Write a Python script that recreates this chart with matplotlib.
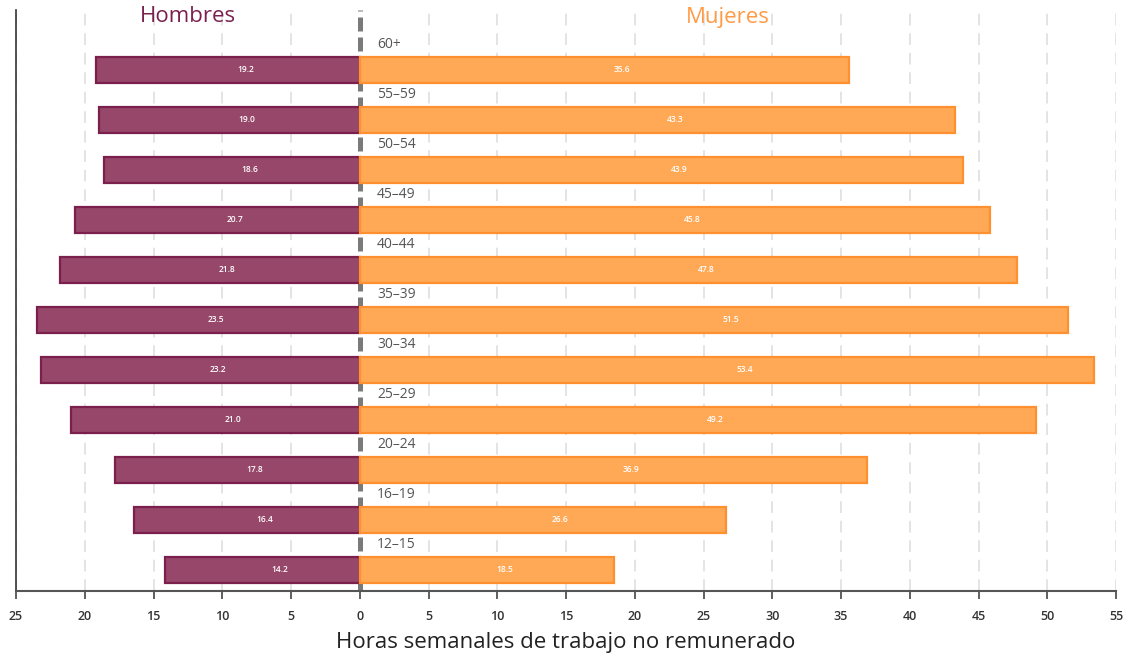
import matplotlib
matplotlib.use("Agg")
import matplotlib.pyplot as plt
import numpy as np

age_groups = ["12–15", "16–19", "20–24", "25–29", "30–34", "35–39",
              "40–44", "45–49", "50–54", "55–59", "60+"]
hombres = [14.2, 16.4, 17.8, 21.0, 23.2, 23.5, 21.8, 20.7, 18.6, 19.0, 19.2]
mujeres = [18.5, 26.6, 36.9, 49.2, 53.4, 51.5, 47.8, 45.8, 43.9, 43.3, 35.6]
xticks = [-25, -20, -15, -10, -5, 0, 5, 10, 15, 20, 25, 30, 35, 40, 45, 50, 55]
xtick_labels = [str(abs(t)) for t in xticks]

plt.rcParams['font.family'] = ['Open Sans', 'DejaVu Sans']

fig = plt.figure(figsize=(11.28, 6.56), dpi=100)
ax = fig.add_axes([16/1128, 1 - 591/656, 1100/1128, 581/656])

y = np.arange(len(age_groups))
h_fill, h_edge = "#96476a", "#7b1f4c"
m_fill, m_edge = "#ffa957", "#ff9030"

# grid
for t in xticks:
    if t == 0:
        continue
    ax.axvline(t, color="#e2e2e2", lw=1.3, dashes=(6.5, 4.3), zorder=0)
ax.axvline(0, color="#7a7a7a", lw=3.6, dashes=(2.8, 1.2), zorder=1)

ax.barh(y, [-v for v in hombres], height=0.52, color=h_fill, edgecolor=h_edge,
        linewidth=1.6, zorder=2)
ax.barh(y, mujeres, height=0.52, color=m_fill, edgecolor=m_edge,
        linewidth=1.6, zorder=2)

for yi, hv, mv, lab in zip(y, hombres, mujeres, age_groups):
    ax.annotate(f"{hv:.1f}", (-hv / 2, yi), xytext=(12.6, 0), textcoords="offset points",
                ha="center", va="center", color="white", fontsize=6, fontweight="semibold", zorder=3)
    ax.annotate(f"{mv:.1f}", (mv / 2, yi), xytext=(12.6, 0), textcoords="offset points",
                ha="center", va="center", color="white", fontsize=6, fontweight="semibold", zorder=3)
    ax.annotate(lab, (0, yi + 0.5), xytext=(12.5, 0), textcoords="offset points",
                ha="left", va="center", color="#555555", fontsize=10, zorder=3)

ax.set_xlim(-25, 55)
ax.set_ylim(-0.42, 11.2)
ax.set_yticks([])
ax.set_xticks(xticks)
ax.set_xticklabels(xtick_labels, fontsize=9, fontweight="semibold", color="#333333")
ax.tick_params(axis="x", length=6, width=1.2, color="#444444", direction="out", pad=8)
for s in ["top", "right"]:
    ax.spines[s].set_visible(False)
ax.spines["left"].set_color("#333333")
ax.spines["left"].set_linewidth(1.2)
ax.spines["bottom"].set_color("#555555")
ax.spines["bottom"].set_linewidth(1.5)

ax.set_xlabel("Horas semanales de trabajo no remunerado", fontsize=16, color="#222222", labelpad=6)

fig.text(188/1128, 1 - 17/656, "Hombres", ha="center", va="center", fontsize=16, color="#7b2150")
fig.text(728/1128, 1 - 17/656, "Mujeres", ha="center", va="center", fontsize=16, color="#ff9a45")

fig.savefig("out.png", dpi=100)
